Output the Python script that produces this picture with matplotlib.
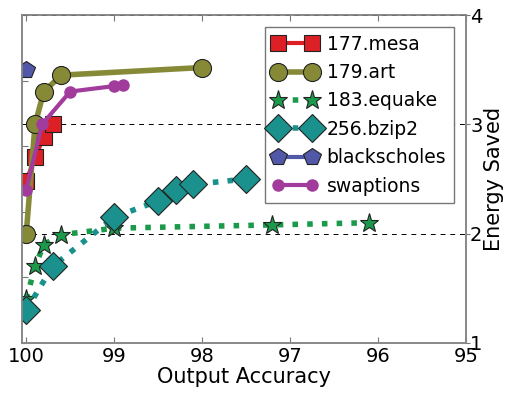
import numpy as np
import matplotlib
matplotlib.use("Agg")
import matplotlib.pyplot as plt

# values
mesa_x = [100.0, 99.9, 99.8, 99.7]
mesa_y = [2.48, 2.70, 2.88, 3.00]
art_x = [100.0, 99.9, 99.8, 99.6, 98.0]
art_y = [2.00, 3.00, 3.30, 3.45, 3.52]
equake_x = [100.0, 99.9, 99.8, 99.6, 99.0, 97.2, 96.1]
equake_y = [1.40, 1.70, 1.90, 1.99, 2.05, 2.08, 2.10]
bzip2_x = [100.0, 99.7, 99.0, 98.5, 98.3, 98.1, 97.5]
bzip2_y = [1.30, 1.70, 2.15, 2.30, 2.40, 2.45, 2.50]
black_x = [100.0]
black_y = [3.50]
swap_x = [100.0, 99.82, 99.5, 99.0, 98.9]
swap_y = [2.40, 3.00, 3.30, 3.35, 3.36]

xticks = [100, 99, 98, 97, 96, 95]
yticks = [1, 2, 3, 4]

fig = plt.figure(figsize=(5.08, 3.96), dpi=100)
ax = fig.add_axes([0.043, 0.134, 0.874, 0.828])
ax.set_ylim(0, 5)
ax.set_yticks([0, 1, 2, 3, 4, 5])
ax.set_yticklabels([])
ax.tick_params(axis='y', direction='in', length=4, color='#777777')
ax.tick_params(axis='x', direction='in', length=4, color='#777777', top=True,
               labelsize=14, pad=3)
ax.set_xlim(100.05, 95)
ax.set_xticks(xticks)
ax.set_xticklabels([str(t) for t in xticks])
ax.set_xlabel("Output Accuracy", fontsize=15, labelpad=1)

ax2 = ax.twinx()
ax2.set_ylim(1, 4)
ax2.set_yticks(yticks)
ax2.tick_params(axis='y', direction='out', length=3, color='#777777',
                labelsize=14, pad=0)
ax2.set_ylabel("Energy Saved", fontsize=15, labelpad=1)
ax2.grid(axis='y', ls=(0, (5, 5)), color='k', lw=0.7)
ax2.set_axisbelow(True)
for a in (ax, ax2):
    for s in a.spines.values():
        s.set_color('#888888')
        s.set_linewidth(1.2)

ec = '#222222'
ax2.plot(mesa_x, mesa_y, '-s', color='#dd2026', lw=3, ms=12, mec=ec, mew=0.8,
         label='177.mesa')
ax2.plot(art_x, art_y, '-o', color='#868a37', lw=4, ms=13, mec=ec, mew=0.8,
         label='179.art')
ax2.plot(equake_x, equake_y, ':*', color='#1c9a4c', lw=4, ms=14, mec=ec, mew=0.8,
         label='183.equake')
ax2.plot(bzip2_x, bzip2_y, ':D', color='#1a918c', lw=4, ms=14, mec=ec, mew=0.8,
         label='256.bzip2')
ax2.plot(black_x, black_y, '-p', color='#5258a8', lw=3, ms=13, mec=ec, mew=0.8,
         label='blackscholes')
ax2.plot(swap_x, swap_y, '-o', color='#a13b9c', lw=3, ms=8, mec='#a13b9c',
         label='swaptions')

leg = ax2.legend(loc='upper right', fontsize=13.5, numpoints=2, fancybox=False,
                 framealpha=1, edgecolor='#777777', handlelength=2.4,
                 labelspacing=0.5, borderpad=0.4, handletextpad=0.5,
                 borderaxespad=0.65)
leg.get_frame().set_linewidth(1.0)

fig.savefig("out.png", dpi=100)
